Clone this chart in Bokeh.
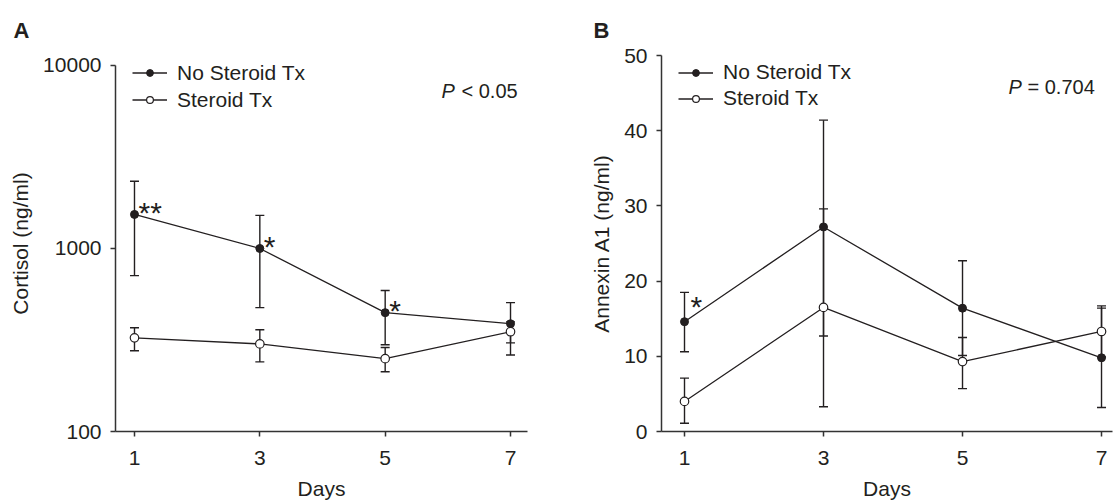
from bokeh.plotting import figure
from bokeh.layouts import row
from bokeh.models import (Range1d, FixedTicker, NumeralTickFormatter, Whisker, TeeHead,
                          ColumnDataSource, Legend, LegendItem, Label)
from bokeh.embed import file_html
from bokeh.resources import INLINE
from bokeh.core.properties import value

# ---------------- data ----------------
days = [1, 3, 5, 7]

# Panel A: cortisol (ng/ml), log scale
cort_no = [1535, 1000, 446, 388]
cort_no_hi = [2328, 1517, 589, 506]
cort_no_lo = [711, 475, 298, 262]
cort_st = [325, 301, 250, 351]
cort_st_hi = [369, 360, 288, 397]
cort_st_lo = [276, 240, 212, 305]
cort_no_stars = ["**", "*", "*", ""]
cort_ticks = [100, 1000, 10000]

# Panel B: Annexin A1 (ng/ml)
anx_no = [14.6, 27.2, 16.4, 9.8]
anx_no_hi = [18.5, 41.4, 22.7, 16.4]
anx_no_lo = [10.6, 12.7, 10.1, 3.2]
anx_st = [4.0, 16.5, 9.3, 13.3]
anx_st_hi = [7.1, 29.6, 12.5, 16.7]
anx_st_lo = [1.1, 3.3, 5.7, 9.9]
anx_no_stars = ["*", "", "", ""]
anx_ticks = [0, 10, 20, 30, 40, 50]

series_names = ["No Steroid Tx", "Steroid Tx"]

INK = "#231f20"
AX = "#333333"
FONT = "Liberation Sans"


def style_axes(p, ylabel):
    for ax in (p.xaxis[0], p.yaxis[0]):
        ax.axis_line_color = AX
        ax.axis_line_width = 1.5
        ax.major_tick_line_color = AX
        ax.major_tick_line_width = 1.5
        ax.major_tick_out = 5
        ax.major_tick_in = 0
        ax.minor_tick_line_color = None
        ax.major_label_text_font = FONT
        ax.major_label_text_font_size = "21px"
        ax.major_label_text_color = INK
        ax.axis_label_text_font = FONT
        ax.axis_label_text_font_size = "21px"
        ax.axis_label_text_font_style = "normal"
        ax.axis_label_text_color = INK
    p.xaxis[0].ticker = FixedTicker(ticks=days)
    p.xaxis[0].axis_label = "Days"
    p.xaxis[0].major_label_standoff = 14
    p.xaxis[0].axis_label_standoff = 9
    p.yaxis[0].axis_label = ylabel
    p.yaxis[0].major_label_standoff = 9
    p.yaxis[0].axis_label_standoff = 8


def style_title(p, letter, offset):
    p.title.text = letter
    p.title.align = "left"
    p.title.offset = offset
    p.title.text_font = FONT
    p.title.text_font_size = "22px"
    p.title.text_font_style = "bold"
    p.title.text_color = INK
    p.title.standoff = 26


def add_series(p, src, star_off, legend_loc, spacing):
    for key in ("no", "st"):
        wh = Whisker(source=src, base="day", upper=key + "_hi", lower=key + "_lo",
                     line_color=INK, line_width=1.4,
                     upper_head=TeeHead(size=9, line_color=INK, line_width=1.4),
                     lower_head=TeeHead(size=9, line_color=INK, line_width=1.4))
        p.add_layout(wh)
    l1 = p.line("day", "no", source=src, line_color=INK, line_width=1.3)
    s1 = p.scatter("day", "no", source=src, size=8, fill_color=INK, line_color=INK)
    l2 = p.line("day", "st", source=src, line_color=INK, line_width=1.3)
    s2 = p.scatter("day", "st", source=src, size=8.5, fill_color="white",
                   line_color=INK, line_width=1.2)
    p.text("day", "no", text="stars", source=src, x_offset=star_off[0], y_offset=star_off[1],
           text_font=value(FONT), text_font_size="30px", text_color=INK,
           text_align="left", text_baseline="alphabetic")
    legend = Legend(items=[LegendItem(label=series_names[0], renderers=[l1, s1]),
                           LegendItem(label=series_names[1], renderers=[l2, s2])],
                    location=legend_loc, orientation="vertical",
                    glyph_width=35, glyph_height=17, label_height=25,
                    label_standoff=10, spacing=spacing, padding=0, margin=0,
                    border_line_color=None, background_fill_alpha=0,
                    label_text_font=FONT, label_text_font_size="21px",
                    label_text_color=INK)
    p.add_layout(legend)


common = dict(height=502, output_backend="svg", toolbar_location=None,
              min_border_top=55, min_border_bottom=70)

# ---------------- panel A ----------------
srcA = ColumnDataSource(dict(day=days, no=cort_no, no_hi=cort_no_hi, no_lo=cort_no_lo,
                             st=cort_st, st_hi=cort_st_hi, st_lo=cort_st_lo,
                             stars=cort_no_stars))
pA = figure(width=560, x_range=Range1d(0.697, 7.271),
            y_range=Range1d(100, 10 ** (4 + 10 / 183.5)), y_axis_type="log",
            min_border_left=115, min_border_right=33, **common)
pA.outline_line_color = None
pA.grid.visible = False
style_axes(pA, "Cortisol (ng/ml)")
style_title(pA, "A", -102)
pA.yaxis[0].ticker = FixedTicker(ticks=cort_ticks)
pA.yaxis[0].formatter = NumeralTickFormatter(format="0")
pA.yaxis[0].bounds = (cort_ticks[0], cort_ticks[-1])
add_series(pA, srcA, (4, -2), (17, 319), 2)
pA.add_layout(Label(x=326, y=341, x_units="screen", y_units="screen", text="P",
                    text_font=FONT, text_font_size="20px", text_font_style="italic",
                    text_color=INK, text_baseline="alphabetic"))
pA.add_layout(Label(x=346, y=341, x_units="screen", y_units="screen", text="< 0.05",
                    text_font=FONT, text_font_size="20px",
                    text_color=INK, text_baseline="alphabetic"))

# ---------------- panel B ----------------
srcB = ColumnDataSource(dict(day=days, no=anx_no, no_hi=anx_no_hi, no_lo=anx_no_lo,
                             st=anx_st, st_hi=anx_st_hi, st_lo=anx_st_lo,
                             stars=anx_no_stars))
pB = figure(width=554, x_range=Range1d(0.669, 7.158), y_range=Range1d(0, 50),
            min_border_left=101, min_border_right=2, **common)
pB.outline_line_color = None
pB.grid.visible = False
style_axes(pB, "Annexin A1 (ng/ml)")
style_title(pB, "B", -68)
pB.yaxis[0].ticker = FixedTicker(ticks=anx_ticks)
add_series(pB, srcB, (6, -15), (17, 320.5), 1)
pB.add_layout(Label(x=347, y=345, x_units="screen", y_units="screen", text="P",
                    text_font=FONT, text_font_size="20px", text_font_style="italic",
                    text_color=INK, text_baseline="alphabetic"))
pB.add_layout(Label(x=366, y=345, x_units="screen", y_units="screen", text="= 0.704",
                    text_font=FONT, text_font_size="20px",
                    text_color=INK, text_baseline="alphabetic"))

layout = row(pA, pB, spacing=0)
open("out.html", "w").write(file_html(layout, INLINE))
